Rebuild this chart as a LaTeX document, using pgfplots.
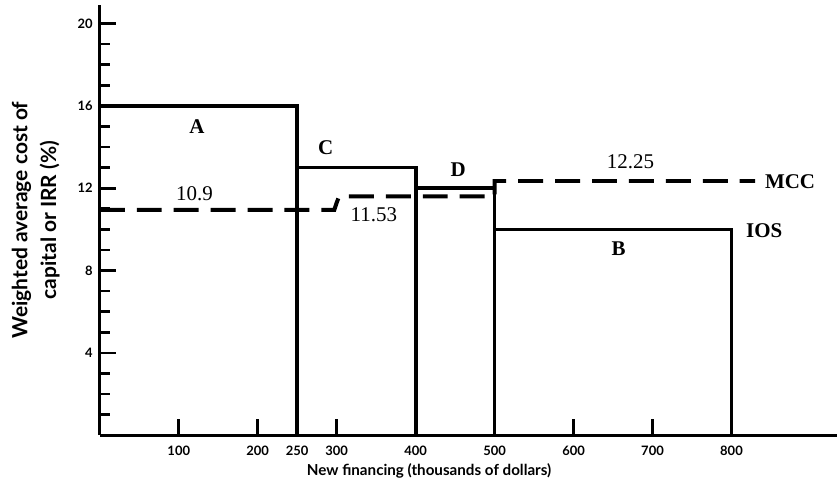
\documentclass[border=0pt]{standalone}
\usepackage{fontspec}
\setmainfont{Liberation Serif}
\newfontfamily\labfont{Lato}
\usepackage{pgfplots}
\pgfplotsset{compat=1.18}
\begin{document}
\begin{tikzpicture}
\begin{axis}[
  scale only axis, width=369pt, height=215.5pt,
  xmin=0, xmax=933, ymin=0, ymax=20.9,
  axis lines=left, axis line style={-, line width=1.5pt},
  xtick={100,200,250,300,400,500,600,700,800},
  ytick={4,8,12,16,20},
  minor ytick={1,2,3,5,6,7,9,10,11,13,14,15,17,18,19},
  tick align=inside,
  major tick length=8pt, minor tick length=5pt,
  tick style={line width=1.3pt, black},
  minor tick style={line width=1.3pt},
  /pgf/number format/assume math mode=true,
  ticklabel style={font=\labfont\bfseries\fontsize{6.5}{7}\selectfont},
  xticklabel style={yshift=-2pt},
  xlabel={New financing (thousands of dollars)},
  ylabel={Weighted average cost of\\capital or IRR (\%)},
  xlabel style={font=\labfont\bfseries\fontsize{7.6}{9}\selectfont, at={(axis description cs:0.447,0)}, anchor=center, yshift=-18pt},
  ylabel style={font=\labfont\bfseries\fontsize{10.5}{14.5}\selectfont, align=center, at={(axis description cs:-0.087,0.5)}, anchor=center},
  clip=false,
]
\path (rel axis cs:0,0) ++(-50pt,-29pt) rectangle ++(419pt,247pt);
% IOS
\addplot[black, line width=1.85pt, line join=miter] coordinates {(0,16)(250,16)(250,13)(400,13)(400,12)(500,12)(500,10)(800,10)(800,0)};
\addplot[black, line width=1.85pt] coordinates {(250,13)(250,0)};
\addplot[black, line width=1.85pt] coordinates {(400,12)(400,0)};
\addplot[black, line width=1.85pt] coordinates {(500,10)(500,0)};
% MCC
\addplot[black, line width=2pt, dash pattern=on 12.5pt off 6pt] coordinates {(0,10.95)(297,10.95)(300,11.3)(303,11.6)(500,11.6)(500,12.35)(830,12.35)};
\node[font=\fontsize{10.5}{12}\selectfont\bfseries] at (axis cs:123,15.0) {A};
\node[font=\fontsize{10.5}{12}\selectfont\bfseries] at (axis cs:286,13.95) {C};
\node[font=\fontsize{10.5}{12}\selectfont\bfseries] at (axis cs:454,12.9) {D};
\node[font=\fontsize{10.5}{12}\selectfont\bfseries] at (axis cs:657,9.07) {B};
\node[font=\fontsize{10.5}{12}\selectfont] at (axis cs:120,11.75) {10.9};
\node[font=\fontsize{10.5}{12}\selectfont] at (axis cs:347,10.73) {11.53};
\node[font=\fontsize{10.5}{12}\selectfont] at (axis cs:672,13.3) {12.25};
\node[font=\fontsize{10.5}{12}\selectfont\bfseries, anchor=west, inner sep=0pt] at (axis cs:842,12.34) {MCC};
\node[font=\fontsize{10.5}{12}\selectfont\bfseries, anchor=west, inner sep=0pt] at (axis cs:818,9.95) {IOS};
\end{axis}
\end{tikzpicture}
\end{document}
